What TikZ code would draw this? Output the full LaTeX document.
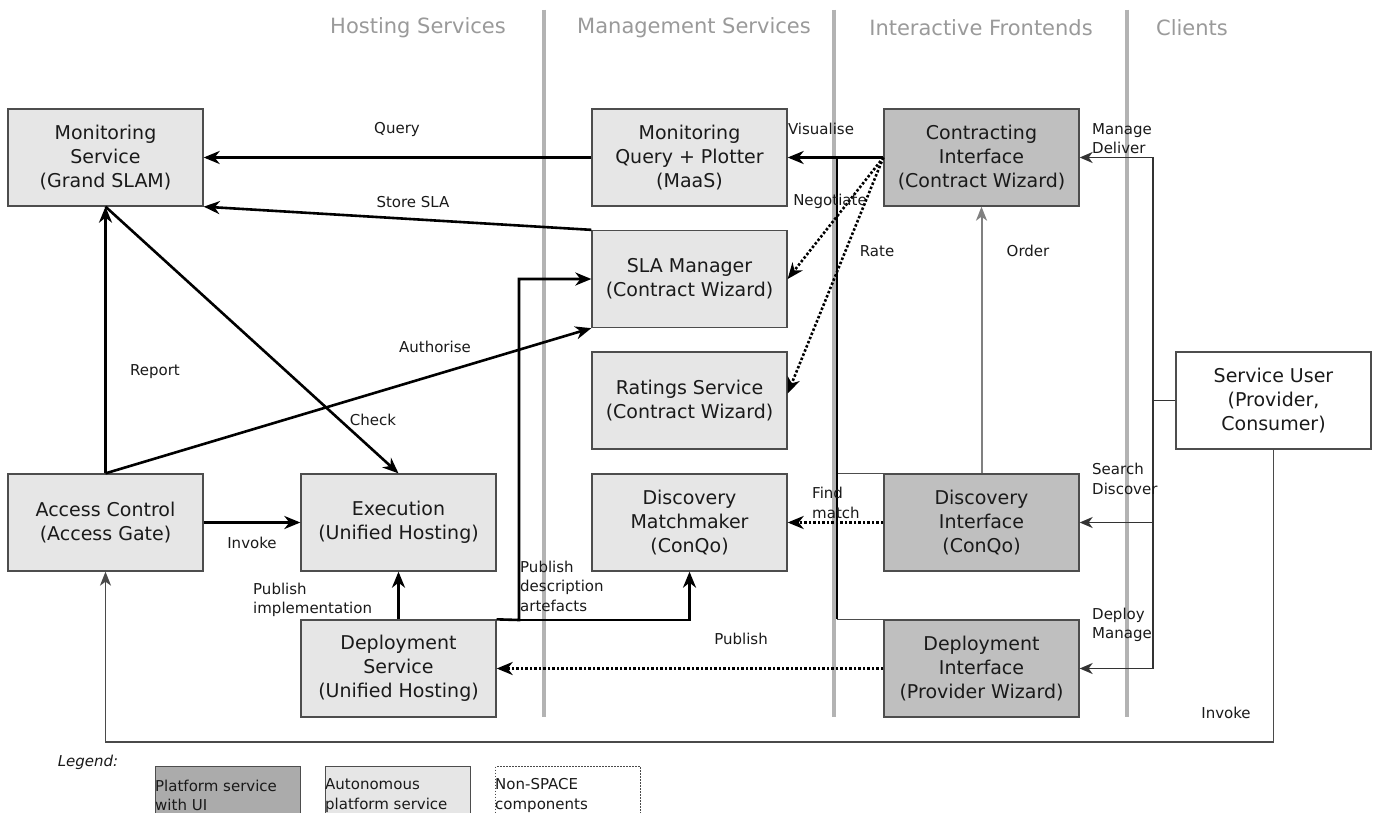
\documentclass[tikz,border=0pt]{standalone}
\usepackage{fontspec}
\setmainfont{DejaVu Sans}
\usetikzlibrary{arrows.meta,calc}
\definecolor{boxline}{HTML}{4D4D4D}
\definecolor{lightfill}{HTML}{E6E6E6}
\definecolor{darkfill}{HTML}{BFBFBF}
\definecolor{legdark}{HTML}{ABABAB}
\definecolor{textc}{HTML}{1A1A1A}
\definecolor{hdrc}{HTML}{9A9A9A}
\definecolor{sepc}{HTML}{B3B3B3}
\definecolor{thinc}{HTML}{333333}
\definecolor{orderc}{HTML}{808080}
\definecolor{invc}{HTML}{4A4A4A}
\begin{document}
\begin{tikzpicture}[x=1pt,y=-1pt,
  box/.style={draw=boxline,line width=1.3pt,minimum width=195pt,minimum height=97pt,inner sep=0pt,align=center,font=\fontsize{19}{24}\selectfont,text=textc},
  lightbox/.style={box,fill=lightfill},
  darkbox/.style={box,fill=darkfill},
  userbox/.style={box,fill=white},
  lbl/.style={font=\fontsize{15}{19.5}\selectfont,inner sep=0pt,text=textc},
  lbll/.style={lbl,align=left,anchor=west},
  hdr/.style={font=\fontsize{21}{24}\selectfont,text=hdrc,inner sep=0pt},
  sepline/.style={draw=sepc,line width=3.5pt},
  strong/.style={line width=2.6pt,draw=black},
  strongarr/.style={strong,-{Stealth[length=16pt,width=13pt,inset=5pt]}},
  dotarr/.style={strongarr,dash pattern=on 2.5pt off 2pt},
  thinline/.style={line width=1.5pt,draw=thinc},
  thinarr/.style={thinline,-{Stealth[length=13pt,width=11pt,inset=4pt]}},
  stub/.style={line width=1.5pt,draw=boxline},
  orderarr/.style={line width=2pt,draw=orderc,-{Stealth[length=14pt,width=11pt,inset=4pt]}},
  invline/.style={line width=1.8pt,draw=invc,-{Stealth[length=14pt,width=11pt,inset=4pt]}},
  legbox/.style={minimum width=145pt,minimum height=70pt,inner sep=0pt,anchor=north west,line width=1.3pt},
]
\clip (0,0) rectangle (1375,813);
\fill[white] (0,0) rectangle (1375,813);

% column headers and separators
\node[hdr] (h1) at (418,28) {Hosting Services};
\node[hdr] (h2) at (694,28) {Management Services};
\node[hdr] (h3) at (981,28) {Interactive Frontends};
\node[hdr] (h4) at (1192,28) {Clients};
\coordinate (s1t) at (544,10); \coordinate (s1b) at (544,717);
\coordinate (s2t) at (834,10); \coordinate (s2b) at (834,717);
\coordinate (s3t) at (1127,10); \coordinate (s3b) at (1127,717);
\draw[sepline] (s1t) -- (s1b);
\draw[sepline] (s2t) -- (s2b);
\draw[sepline] (s3t) -- (s3b);

% boxes
\node[lightbox] (ms) at (105.5,157.5) {Monitoring\\Service\\(Grand SLAM)};
\node[lightbox] (mq) at (689.5,157.5) {Monitoring\\Query + Plotter\\(MaaS)};
\node[darkbox] (ci) at (981.5,157.5) {Contracting\\Interface\\(Contract Wizard)};
\node[lightbox] (sla) at (689.5,279) {SLA Manager\\(Contract Wizard)};
\node[lightbox] (rat) at (689.5,400.5) {Ratings Service\\(Contract Wizard)};
\node[lightbox] (dm) at (689.5,522.5) {Discovery\\Matchmaker\\(ConQo)};
\node[darkbox] (di) at (981.5,522.5) {Discovery\\Interface\\(ConQo)};
\node[darkbox] (depi) at (981.5,668.5) {Deployment\\Interface\\(Provider Wizard)};
\node[lightbox] (ac) at (105.5,522.5) {Access Control\\(Access Gate)};
\node[lightbox] (ex) at (398.5,522.5) {Execution\\(Unified Hosting)};
\node[lightbox] (ds) at (398.5,668.5) {Deployment\\Service\\(Unified Hosting)};
\node[userbox] (su) at (1273.5,400.5) {Service User\\(Provider,\\Consumer)};

% connectors
\draw[strongarr] (mq.west) -- (ms.east);
\node[lbl] (lq) at (397,129) {Query};
\draw[strongarr] (sla.north west) -- (ms.south east);
\node[lbl] (lst) at (413,202) {Store SLA};
\coordinate (vx) at (837,157.5);
\draw[stub] (di.north west) -- (di.north west -| vx) coordinate (vd);
\draw[stub] (depi.north west) -- (depi.north west -| vx) coordinate (vdep);
\draw[strong] (vdep) -- (vx);
\draw[strongarr] (ci.west) -- (mq.east);
\node[lbl] (lvis) at (821,129) {Visualise};
\draw[dotarr] (ci.west) -- (sla.east);
\node[lbl] (lneg) at (830,201) {Negotiate};
\draw[dotarr] (ci.west) -- ([yshift=7pt]rat.east);
\node[lbl] (lrate) at (877,251) {Rate};
\draw[strongarr] (ac.north) -- (ms.south);
\node[lbl] (lrep) at (155,372) {Report};
\draw[strongarr] (ac.north) -- (sla.south west);
\node[lbl] (lauth) at (435,347) {Authorise};
\draw[strongarr] (ms.south) -- (ex.north);
\node[lbl] (lchk) at (373,420) {Check};
\draw[strongarr] (ac.east) -- (ex.west);
\node[lbl] (linv) at (252,543) {Invoke};
\draw[strongarr] (ds.north) -- (ex.south);
\node[lbll] (lpi) at (253,600) {Publish\\implementation};
\coordinate (pd) at (519,620);
\draw[strongarr] (ds.north east) -- (pd) |- (sla.west);
\draw[strongarr] (pd) -| (dm.south);
\node[lbll] (lpd) at (520,586) {Publish\\description\\artefacts};
\draw[dotarr] (di.west) -- (dm.east);
\node[lbll] (lfm) at (812,503) {Find\\match};
\draw[dotarr] (depi.west) -- (ds.east);
\node[lbl] (lpub) at (741,639) {Publish};
\draw[orderarr] (di.north) -- (ci.south);
\node[lbl] (lord) at (1028,251) {Order};

% service user bus
\coordinate (bus) at (1153,0);
\draw[thinline] (su.west) -- (su.west -| bus);
\draw[thinline] (ci.east -| bus) -- (depi.east -| bus);
\draw[thinarr] (ci.east -| bus) -- (ci.east);
\draw[thinarr] (di.east -| bus) -- (di.east);
\draw[thinarr] (depi.east -| bus) -- (depi.east);
\node[lbll] (lmd) at (1092,138.5) {Manage\\Deliver};
\node[lbll] (lsd) at (1092,479) {Search\\Discover};
\node[lbll] (ldm) at (1092,625) {Deploy\\Manage};
\coordinate (bot) at (0,742);
\draw[invline] (su.south) -- (su.south |- bot) -| (ac.south);
\node[lbl] (linv2) at (1226,713) {Invoke};

% legend
\node[lbl,font=\fontsize{15}{19.5}\selectfont\itshape] (leg) at (88,762) {Legend:};
\node[legbox,draw=boxline,fill=legdark] (lg1) at (155,766) {};
\node[legbox,draw=boxline,fill=lightfill] (lg2) at (325,766) {};
\node[legbox,draw=invc,dash pattern=on 1.5pt off 1.5pt] (lg3) at (495,766) {};
\node[lbll] (lt1) at (lg1.north west |- 0,795.5) {Platform service\\with UI};
\node[lbll] (lt2) at (lg2.north west |- 0,795.5) {Autonomous\\platform service};
\node[lbll] (lt3) at (lg3.north west |- 0,795.5) {Non-SPACE\\components};
\end{tikzpicture}
\end{document}
